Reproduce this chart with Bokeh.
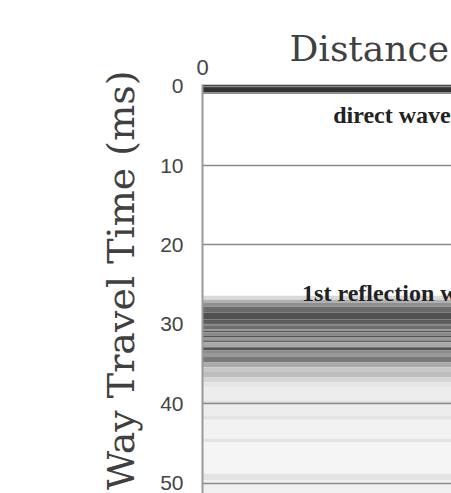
from bokeh.embed import file_html
from bokeh.models import ColumnDataSource, FixedTicker, Label, Range1d, Title
from bokeh.plotting import figure
from bokeh.resources import INLINE

# Trace amplitude bands (two way travel time in ms, amplitude 0..1)
band_start = [-0.2, 0.8,
              26.4, 26.9, 27.3, 27.8, 28.5, 29.4, 30.1, 30.6, 30.8, 31.0,
              31.4, 31.6, 32.0, 32.3, 32.9, 33.3, 33.6, 34.1, 34.8, 35.4,
              36.0, 36.7, 37.3, 37.9, 39.6, 40.0, 41.5, 42.0, 44.4, 44.8,
              48.8, 49.6]
band_end = [0.8, 1.0,
            26.9, 27.3, 27.8, 28.5, 29.4, 30.1, 30.6, 30.8, 31.0, 31.4,
            31.6, 32.0, 32.3, 32.9, 33.3, 33.6, 34.1, 34.8, 35.4, 36.0,
            36.7, 37.3, 37.9, 39.6, 40.0, 41.5, 42.0, 44.4, 44.8, 48.8,
            49.6, 51.5]
band_amp = [0.80, 0.45,
            0.15, 0.31, 0.44, 0.58, 0.69, 0.64, 0.57, 0.40, 0.67, 0.46,
            0.67, 0.40, 0.60, 0.34, 0.67, 0.46, 0.40, 0.52, 0.33, 0.22,
            0.26, 0.16, 0.10, 0.07, 0.13, 0.07, 0.11, 0.05, 0.11, 0.04,
            0.11, 0.06]

time_ticks = [0, 10, 20, 30, 40, 50]
distance_ticks = [0]
distance_max = 10

event_names = ["direct wave", "1st reflection wave"]
event_x = [5.25, 4.0]
event_t = [3.6, 26.0]


def gray(a):
    g = int(round(255 * (1 - a)))
    return "#%02x%02x%02x" % (g, g, g)


src = ColumnDataSource(dict(
    top=band_start,
    bottom=band_end,
    color=[gray(a) for a in band_amp],
))

p = figure(width=451, height=493, output_backend="svg", toolbar_location=None,
           x_range=Range1d(0, distance_max), y_range=Range1d(51.3, -0.2),
           x_axis_location="above",
           min_border_left=202, min_border_top=84,
           min_border_right=0, min_border_bottom=0)
p.outline_line_color = None
p.background_fill_color = "white"
p.border_fill_color = "white"

p.quad(left=0, right=distance_max, top="top", bottom="bottom",
       fill_color="color", line_color=None, source=src, level="image")

p.xgrid.visible = False
p.ygrid.ticker = FixedTicker(ticks=time_ticks)
p.ygrid.grid_line_color = "#8a8a8a"
p.ygrid.grid_line_width = 1.5

p.yaxis.ticker = FixedTicker(ticks=time_ticks)
p.yaxis.axis_line_color = "#9a9a9a"
p.yaxis.axis_line_width = 2
p.yaxis.major_tick_out = 0
p.yaxis.major_tick_in = 0
p.yaxis.minor_tick_out = 0
p.yaxis.minor_tick_in = 0
p.yaxis.major_label_standoff = 19
p.yaxis.major_label_text_font = "Liberation Sans"
p.yaxis.major_label_text_font_size = "21px"
p.yaxis.major_label_text_color = "#444444"

p.xaxis.ticker = FixedTicker(ticks=distance_ticks)
p.xaxis.axis_line_color = None
p.xaxis.major_tick_out = 0
p.xaxis.major_tick_in = 0
p.xaxis.minor_tick_out = 0
p.xaxis.minor_tick_in = 0
p.xaxis.major_label_standoff = 10
p.xaxis.major_label_text_font = "Liberation Sans"
p.xaxis.major_label_text_font_size = "22px"
p.xaxis.major_label_text_color = "#444444"

# axis titles
p.add_layout(Title(text="Distance (m)", align="left", offset=87,
                   standoff=-25, text_font="DejaVu Serif",
                   text_font_size="36px", text_font_style="normal",
                   text_color="#404040"), "above")
p.add_layout(Title(text="Two Way Travel Time (ms)", align="right", offset=-14,
                   standoff=30, text_font="DejaVu Serif",
                   text_font_size="38px", text_font_style="normal",
                   text_color="#404040"), "left")

# event annotations
for name, ex, et in zip(event_names, event_x, event_t):
    p.add_layout(Label(x=ex, y=et, text=name, text_font="Liberation Serif",
                       text_font_style="bold", text_font_size="24px",
                       text_color="#222222", text_align="left",
                       text_baseline="alphabetic"))

open("out.html", "w").write(file_html(p, INLINE))
